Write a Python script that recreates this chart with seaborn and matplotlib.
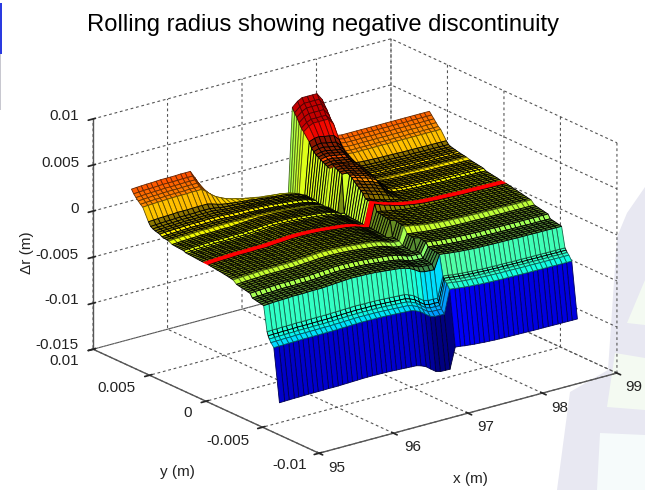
import numpy as np
import matplotlib
matplotlib.use('Agg')
import matplotlib.pyplot as plt
from matplotlib.patches import Polygon
import seaborn as sns

# stations along the track (m)
x_m = [95.00, 95.07, 95.13, 95.20, 95.26, 95.33, 95.39, 95.46, 95.52, 95.59, 95.66, 95.72, 95.79,
       95.85, 95.92, 95.98, 96.05, 96.11, 96.18, 96.25, 96.31, 96.38, 96.44, 96.51, 96.57, 96.64,
       96.70, 96.77, 96.84, 96.90, 96.97, 97.03, 97.10, 97.16, 97.23, 97.29, 97.36, 97.43, 97.49,
       97.56, 97.62, 97.69, 97.75, 97.82, 97.89, 97.95, 98.02, 98.08, 98.15, 98.21, 98.28, 98.34,
       98.41, 98.48, 98.54, 98.61, 98.67, 98.74, 98.80, 98.87, 98.93, 99.00]

# lateral positions (m)
y_m = [-0.0065, -0.0060, -0.00575, -0.0056, -0.0055, -0.0054, -0.0051, -0.0049, -0.0047, -0.0045,
       -0.0043, -0.0041, -0.0039, -0.0037, -0.0035, -0.0033, -0.0031, -0.0029, -0.0027, -0.0024,
       -0.0022, -0.0020, -0.0018, -0.0016, -0.0014, -0.0012, -0.0010, -0.0008, -0.0006, -0.0004,
       -0.00022, 0.00022, 0.0004, 0.0006, 0.0008, 0.0010, 0.0012, 0.0014, 0.0016, 0.0018, 0.0020,
       0.0022, 0.0024, 0.0026, 0.0028, 0.0030, 0.0033, 0.0035, 0.0037, 0.0039, 0.0041, 0.0043,
       0.0045, 0.0047, 0.0049, 0.0051, 0.0056, 0.0058, 0.0060, 0.0062, 0.0064, 0.0066]

# delta r across y at the x=95 end and the x=99 end (mm)
left_mm = [-11.5, -5.8, -5.4, -5.1, -4.8, -4.4, -1.74, -1.69, -1.64, -1.59, -1.54, -1.49, -1.09, -1.04,
           -0.99, -0.94, -0.89, -0.84, -0.79, -0.48, -0.43, -0.38, -0.34, -0.3, -0.26, -0.23, -0.2,
           -0.17, -0.14, -0.11, -0.08, -0.06, -0.04, -0.02, 0, 0.02, 0.04, 0.06, 0.08, 0.1, 0.22, 0.24,
           0.26, 0.28, 0.3, 0.32, 0.52, 0.56, 0.6, 0.65, 0.82, 0.88, 0.95, 1.05, 1.2, 1.6, 2.9, 3.1,
           3.35, 3.6, 3.9, 4.3]
right_mm = [-11.1, -5.1, -4.6, -4.4, -4.2, -4.0, -1.83, -1.78, -1.73, -1.68, -1.63, -1.58, -1.18, -1.13,
            -1.08, -1.03, -0.98, -0.93, -0.88, -0.5, -0.45, -0.4, -0.35, -0.3, -0.25, -0.2, -0.15,
            -0.1, -0.05, 0.0, 0.05, 0.1, 0.15, 0.2, 0.24, 0.28, 0.32, 0.36, 0.4, 0.56, 0.6, 0.64,
            0.68, 0.72, 0.76, 0.8, 0.92, 0.96, 1.0, 1.04, 1.1, 1.16, 1.22, 1.28, 1.4, 1.7, 2.65, 2.85,
            3.15, 3.45, 3.75, 4.05]

# x where the joint sits, for each y
joint_x = [97.33] * 15 + [97.27] * 8 + [97.22] * 8 + [97.18] * 10 + [97.14] * 9 + [97.1] * 12

# change along x before the joint (mm, or share of the row value)
left_drift = [0, 0.04, 0.07, 0.1, 0.11, 0.14, 0.17, 0.17, 0.17, 0.18, 0.21, 0.2, 0.21, 0.25, 0.29, 0.32,
              0.36, 0.4, 0.42, 0.42, 0.4, 0.39, 0.36, 0.33, 0.27, 0.22, 0.16, 0.1, 0.04, -0.04,
              -0.15, -0.3, -0.53, -0.62, -0.65, -0.68, -0.66] + [0] * 25
plateau_loss = [0] * 13 + [0.15, 0.35, 0.5, 0.62, 0.72, 0.8, 0.85, 0.9, 0.93, 0.96, 0.98] + [1] * 13 + [0] * 25
dip_share = [0] * 29 + [0.1, 0.3, 0.6, 0.9, 1, 1, 1, 1] + [0] * 25

# change along x after the joint
right_drift = [0] * 33 + [1.8, 1.62, 1.44, 1.21, 1.08, 0.89, 0.76, 0.63, 0.55, 0.44, 0.38, 0.3, 0.27, 0.24, 0.2,
                          0.19, 0.17, 0.14, 0.12, 0.09, 0.08, 0.08, 0.06, 0.05, 0.04, 0.03, 0.02, 0.01, 0]
ridge_share = [0] * 33 + [0.85, 0.95, 1, 1, 1, 1, 0.85, 0.45, 0.12, 0.02] + [0] * 19

# how much of those changes each y row takes
left_weight = [0.5] * 6 + [1] * 56
plateau_mm = [0] * 46 + [0.3, 0.3, 0.35, 0.4, 0.4, 0.45, 0.5, 0.6, 0.7, 1.1, 2.6, 3.2, 3.7, 4.2, 4.8, 5.6]
dip_mm = [1.0, 1.0, 1.0, 1.0, 1.0, 1.0, 0.4] + [0] * 55
right_weight = [0.42] * 19 + [0.6] * 11 + [1] * 16 + [0.6] * 10 + [0] * 6
ridge_mm = [0] * 34 + [0.4, 0.6, 0.8, 1.0, 1.2, 1.3, 1.4, 1.5, 1.6, 1.7, 1.8, 1.9, 2.0, 2.1, 2.2, 2.3, 2.4,
                       2.5, 2.6, 2.8, 3.0, 3.3, 4.4, 4.5, 4.7, 4.9, 5.0, 5.2]

x_ticks = [95, 96, 97, 98, 99]
y_ticks = [-0.01, -0.005, 0, 0.005, 0.01]
z_ticks = [-0.015, -0.01, -0.005, 0, 0.005, 0.01]
x_tick_labels = ['95', '96', '97', '98', '99']
y_tick_labels = ['-0.01', '-0.005', '0', '0.005', '0.01']
z_tick_labels = ['-0.015', '-0.01', '-0.005', '0', '0.005', '0.01']
red_row = 30
coarse_rows = [0, 1, 2, 5, 18, 45, 55, 56, 57, 58, 59, 60]
bright_rows = [11, 18, 38, 39, 45, 49, 55]

sns.set_theme(style='white')
plt.rcParams['font.family'] = ['Liberation Sans', 'DejaVu Sans']

x_arr = np.array(x_m)
z_mm = np.zeros((len(x_m), len(y_m)))
for j in range(len(y_m)):
    left = left_mm[j] + np.array(left_drift) * left_weight[j] - np.array(plateau_loss) * plateau_mm[j] - np.array(dip_share) * dip_mm[j]
    right = right_mm[j] + np.array(right_drift) * right_weight[j] + np.array(ridge_share) * ridge_mm[j]
    z_mm[:, j] = np.where(x_arr <= joint_x[j], left, right)
z_m = z_mm / 1000

X, Y = np.meshgrid(x_arr, y_m, indexing='ij')

cmap = matplotlib.colormaps['jet']
colors = cmap(np.clip(plt.Normalize(-0.0128, 0.0078)(z_m), 0, 0.94))
bare = colors.copy()

# the reference mesh is finer than one pixel in the flat parts, so those faces read much darker
for j in range(6, 55):
    if j not in bright_rows:
        colors[:, j, :3] = bare[:, j, :3] * 0.55
    if j >= 31:
        wall = np.searchsorted(x_arr, joint_x[j], side='right') - 1
        colors[wall, j] = bare[wall, j]
colors[:, red_row] = (1, 0, 0, 1)

# mesh lines: black on the fine mesh, a darker tone of the face on the big walls, red on the red path
edges = np.zeros_like(colors)
edges[:, :, 3] = 1
edges[:, coarse_rows, :3] = colors[:, coarse_rows, :3] * 0.4
edges[:, red_row] = (1, 0, 0, 1)

fig = plt.figure(figsize=(6.45, 4.9), dpi=100)


def px(a, b):
    return a / 645, 1 - b / 490


# faint logo behind the plot, and the scrap of another slide at the left edge
for pts, col in [([(645, 187), (627, 213), (617, 237), (608, 370), (570, 392), (557, 490), (645, 490)], '#E8E8F2'),
                 ([(627, 323), (645, 280), (645, 325)], '#F4FAF2'),
                 ([(615, 353), (645, 358), (645, 410), (607, 407)], '#F4FAF2'),
                 ([(600, 433), (645, 435), (645, 490), (597, 490)], '#F6FBFB'),
                 ([(0, 3), (2, 3), (2, 54), (0, 54)], '#2A3AE0'),
                 ([(0, 54), (1, 54), (1, 110), (0, 110)], '#C8C8D0')]:
    fig.add_artist(Polygon([px(a, b) for a, b in pts], closed=True, transform=fig.transFigure, facecolor=col,
                           edgecolor='none', zorder=-1))

ax = fig.add_axes([64.5 / 645, -46.5 / 490, 565.7 / 645, 565.7 / 490], projection='3d', proj_type='ortho',
                  computed_zorder=False)
ax.set_box_aspect((375, 372, 246))
ax.view_init(elev=20.6, azim=-127.4)

surf = ax.plot_surface(X, Y, z_m, rstride=1, cstride=1, facecolors=colors, shade=False, linewidth=0.6,
                       antialiased=True)
surf.set_edgecolor(edges[:-1, :-1].reshape(-1, 4))

ax.set_xlim(95, 99, view_margin=0)
ax.set_ylim(-0.01, 0.01, view_margin=0)
ax.set_zlim(-0.015, 0.01, view_margin=0)
ax.set_xticks(x_ticks)
ax.set_yticks(y_ticks)
ax.set_zticks(z_ticks)
ax.set_xticklabels([])
ax.set_yticklabels([])
ax.set_zticklabels([])

for axis in (ax.xaxis, ax.yaxis, ax.zaxis):
    axis.set_pane_color((1, 1, 1, 0))
    axis.pane.set_edgecolor((1, 1, 1, 0))
    axis.line.set_color('#555555')
    axis.line.set_linewidth(1.0)
    axis._axinfo['grid'].update(color='#555555', linestyle=(0, (2.5, 2.5)), linewidth=0.8)
    axis._axinfo['tick'].update(color='#555555')

ax.patch.set_alpha(0)

# tick labels sit where the reference has them
label_style = dict(va='center', fontsize=11, color='#222222')
for lab, (a, b) in zip(z_tick_labels, [(79, 345), (79, 300), (79, 255), (79, 209), (79, 163), (79, 116)]):
    fig.text(*px(a, b), lab, ha='right', **label_style)
for lab, (a, b) in zip(y_tick_labels, [(290, 465), (228, 441), (188, 413), (116, 388), (64, 361)]):
    fig.text(*px(a, b), lab, ha='center', **label_style)
for lab, (a, b) in zip(x_tick_labels, [(337, 468), (413, 447), (486, 427), (560, 408), (634, 387)]):
    fig.text(*px(a, b), lab, ha='center', **label_style)

fig.text(*px(323, 25), 'Rolling radius showing negative discontinuity', ha='center', va='center',
         fontsize=17.1, color='black')
fig.text(*px(27, 253), '\u0394r (m)', ha='center', rotation=90, **label_style)
fig.text(*px(177, 472), 'y (m)', ha='center', **label_style)
fig.text(*px(470, 479), 'x (m)', ha='center', **label_style)

plt.savefig('out.png', dpi=100)
